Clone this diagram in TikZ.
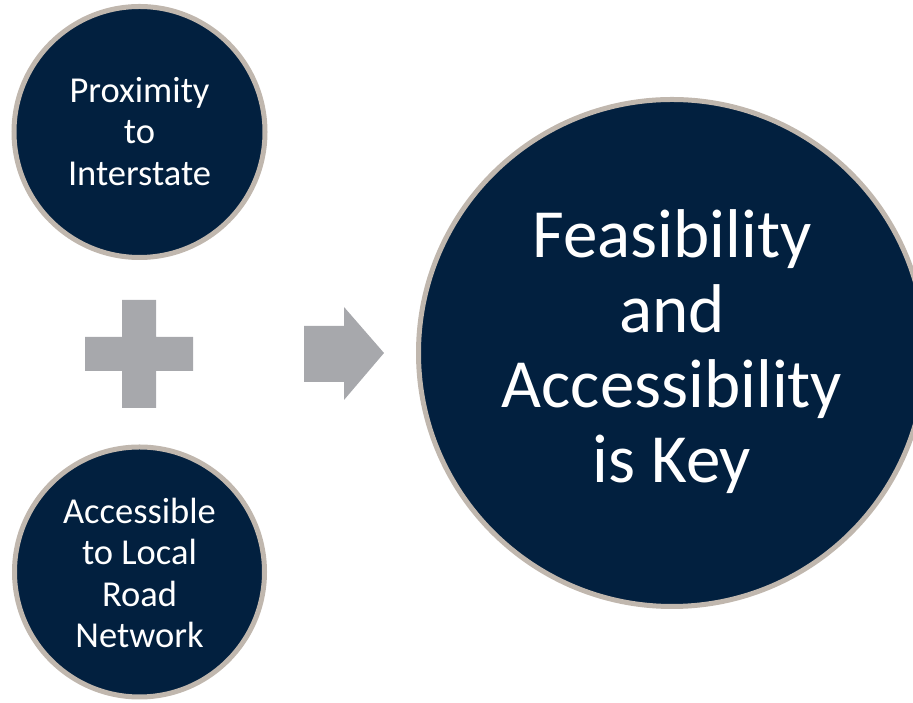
\documentclass[tikz,border=0pt]{standalone}
\usepackage{fontspec}
\setmainfont{Carlito}
\definecolor{navy}{HTML}{02203F}
\definecolor{rim}{HTML}{C0B7AE}
\definecolor{shapegray}{HTML}{A7A8AC}
\tikzset{
  bubble/.style={circle, draw=rim, fill=navy, line width=5pt, inner sep=0pt},
  label text/.style={text=white, align=center, inner sep=0pt},
  smalltext/.style={font=\fontsize{36.5}{41.5}\selectfont},
  bigtext/.style={font=\fontsize{69}{75}\selectfont},
  symbol/.style={fill=shapegray, draw=none}
}
\begin{document}
\begin{tikzpicture}[x=1pt,y=1pt]
\useasboundingbox (0,0) rectangle (913,703);
\clip (0,0) rectangle (913,703);
\node[bubble, minimum size=251pt] (prox) at (139.5,571) {};
\node[bubble, minimum size=250pt] (local) at (139.5,131) {};
\node[bubble, minimum size=507pt] (key) at (672,350) {};
\node[label text, smalltext] (proxtext) at ([yshift=0.5pt]prox.center) {Proximity\\to\\Interstate};
\node[label text, smalltext] (localtext) at ([yshift=-1pt]local.center) {Accessible\\to Local\\Road\\Network};
\node[label text, bigtext] (keytext) at ([yshift=1pt]key.center) {Feasibility\\and\\Accessibility\\is Key};
% plus sign
\fill[symbol] (122,403) -- (156,403) -- (156,366) -- (193,366) -- (193,332) -- (156,332) -- (156,295) -- (122,295) -- (122,332) -- (85,332) -- (85,366) -- (122,366) -- cycle;
% block arrow
\fill[symbol] (304,377) -- (344,377) -- (344,396) -- (384,350) -- (344,303) -- (344,321) -- (304,321) -- cycle;
\end{tikzpicture}
\end{document}
